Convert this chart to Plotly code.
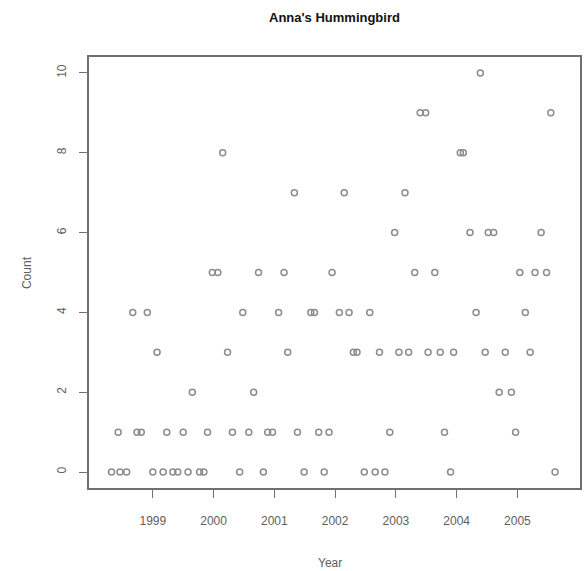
import plotly.graph_objects as go

# sightings per survey date (decimal year, count)
year = [
    1998.32, 1998.46, 1998.57, 1999.00, 1999.17, 1999.33, 1999.41, 1999.58, 1999.77, 1999.84,
    2000.43, 2000.82, 2001.49, 2001.82, 2002.48, 2002.66, 2002.82, 2003.90, 2005.62,
    1998.43, 1998.74, 1998.81, 1999.23, 1999.50, 1999.90, 2000.31, 2000.58, 2000.89, 2000.97,
    2001.38, 2001.73, 2001.90, 2002.90, 2003.80, 2004.97,
    1999.65, 2000.66, 2004.70, 2004.90,
    1999.07, 2000.23, 2001.22, 2002.30, 2002.36, 2002.73, 2003.05, 2003.21, 2003.53, 2003.73,
    2003.95, 2004.47, 2004.80, 2005.21,
    1998.67, 1998.91, 2000.48, 2001.07, 2001.60, 2001.66, 2002.07, 2002.23, 2002.57, 2004.32,
    2005.13,
    1999.98, 2000.07, 2000.74, 2001.16, 2001.95, 2003.31, 2003.64, 2005.04, 2005.29, 2005.48,
    2002.98, 2004.22, 2004.52, 2004.61, 2005.39,
    2001.33, 2002.15, 2003.15,
    2000.15, 2004.06, 2004.11,
    2003.40, 2003.49, 2005.55,
    2004.39,
]
count = [0] * 19 + [1] * 16 + [2] * 4 + [3] * 14 + [4] * 11 + [5] * 10 + [6] * 5 + [7] * 3 + [8] * 3 + [9] * 3 + [10]

x_ticks = [1999, 2000, 2001, 2002, 2003, 2004, 2005]
y_ticks = [0, 2, 4, 6, 8, 10]

grey = "#5e5e5e"
box = "#707070"

fig = go.Figure()
fig.add_trace(go.Scatter(x=year, y=count, mode="markers",
                         marker=dict(symbol="circle-open", size=6, color="#8c8c8c",
                                     line=dict(width=1.5)),
                         showlegend=False, hoverinfo="x+y"))

fig.update_layout(
    template="none",
    width=587, height=571,
    margin=dict(l=89, r=7, t=57, b=83),
    paper_bgcolor="white", plot_bgcolor="white",
    font=dict(family="Liberation Sans, Arial, sans-serif", size=12, color=grey),
    annotations=[
        dict(text="<b>Anna's Hummingbird</b>", x=0.5, y=1.0928, xref="paper", yref="paper",
             xanchor="center", yanchor="middle",
             showarrow=False, font=dict(size=13, color="#111111")),
        dict(text="Count", x=-0.1263, y=0.501, xref="paper", yref="paper",
             xanchor="center", yanchor="middle",
             showarrow=False, textangle=-90, font=dict(size=12, color=grey)),
        dict(text="Year", x=0.491, y=-0.174, xref="paper", yref="paper",
             xanchor="center", yanchor="middle",
             showarrow=False, font=dict(size=12, color=grey)),
    ],
)
fig.update_xaxes(range=[1997.95, 2006.03], tickvals=x_ticks, ticks="outside", ticklen=8,
                 tickcolor=box, tickwidth=1.2, showgrid=False, zeroline=False,
                 showline=True, linecolor=box, linewidth=1.6, mirror=True,
                 ticklabelstandoff=13, automargin=False)
fig.update_yaxes(range=[-0.4, 10.4], tickvals=y_ticks, ticks="outside", ticklen=8,
                 tickcolor=box, tickwidth=1.2, showgrid=False, zeroline=False,
                 showline=True, linecolor=box, linewidth=1.6, mirror=True,
                 tickangle=-90, ticklabelstandoff=8, automargin=False)

# the page's default 8px body margin would shift the whole chart
fig.write_html("out.html", config={"displayModeBar": False},
               post_script="document.body.style.margin = '0';")
